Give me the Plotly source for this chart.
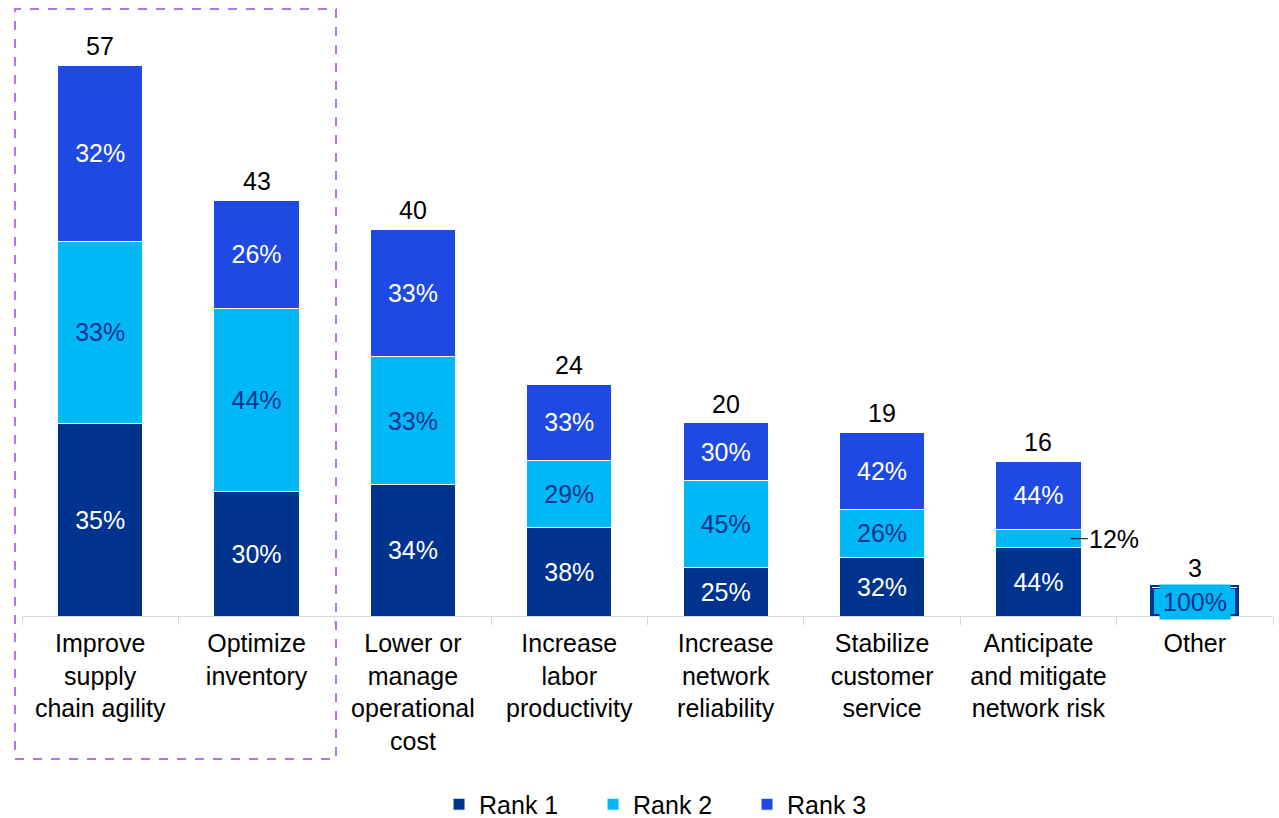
import plotly.graph_objects as go

# data
categories = [
    "Improve<br>supply<br>chain agility",
    "Optimize<br>inventory",
    "Lower or<br>manage<br>operational<br>cost",
    "Increase<br>labor<br>productivity",
    "Increase<br>network<br>reliability",
    "Stabilize<br>customer<br>service",
    "Anticipate<br>and mitigate<br>network risk",
    "Other",
]
totals = [57, 43, 40, 24, 20, 19, 16, 3]
rank1_pct = [35, 30, 34, 38, 25, 32, 44, 0]
rank2_pct = [33, 44, 33, 29, 45, 26, 12, 100]
rank3_pct = [32, 26, 33, 33, 30, 42, 44, 0]

c_rank1 = "#00338D"
c_rank2 = "#00B8F5"
c_rank3 = "#1E49E2"
font = "Liberation Sans, Arial, sans-serif"


def seg(pcts):
    return [t * p / 100 for t, p in zip(totals, pcts)]


def labels(pcts, skip=()):
    return ["" if (p == 0 or i in skip) else f"{p}%" for i, p in enumerate(pcts)]


fig = go.Figure()
series = [
    ("Rank 1", rank1_pct, c_rank1, "white", ()),
    ("Rank 2", rank2_pct, c_rank2, c_rank1, (6, 7)),
    ("Rank 3", rank3_pct, c_rank3, "white", ()),
]
for name, pcts, col, tcol, skip in series:
    line_cols = ["white"] * len(categories)
    line_w = [1] * len(categories)
    if name == "Rank 2":
        line_cols[-1] = c_rank1
        line_w[-1] = 4
    fig.add_trace(go.Bar(
        x=categories, y=seg(pcts), name=name,
        marker=dict(color=col, line=dict(color=line_cols, width=line_w)),
        text=labels(pcts, skip), textposition="inside", insidetextanchor="middle",
        textangle=0, insidetextfont=dict(color=tcol, size=25, family=font),
        hoverinfo="skip",
    ))

annotations = []
for cat, t in zip(categories, totals):
    annotations.append(dict(x=cat, y=t, text=str(t), showarrow=False,
                            yanchor="bottom", yshift=3,
                            font=dict(size=25, color="black", family=font)))

# small segment labelled outside with a leader line
i = 6
annotations.append(dict(
    x=categories[i], y=totals[i] * (rank1_pct[i] + rank2_pct[i] / 2) / 100,
    text=f"{rank2_pct[i]}%", showarrow=True, arrowhead=0, arrowwidth=1,
    arrowcolor="black", ax=44, ay=0, xshift=32,
    font=dict(size=25, color="black", family=font)))

# the "Other" label sits in a boxed tag
i = 7
annotations.append(dict(
    x=categories[i], y=totals[i] * rank2_pct[i] / 200,
    text=f"{rank2_pct[i]}%", showarrow=False, bgcolor=c_rank2,
    borderpad=3, font=dict(size=25, color=c_rank1, family=font)))

fig.update_layout(
    barmode="stack",
    bargap=0.455,
    width=1279, height=818,
    margin=dict(l=22, r=6, t=10, b=202, autoexpand=False),
    plot_bgcolor="white", paper_bgcolor="white",
    font=dict(family=font, size=25, color="black"),
    showlegend=True,
    legend=dict(orientation="h", x=0.518, xanchor="center", y=-0.273, yanchor="top",
                font=dict(size=25), entrywidth=109, traceorder="normal"),
    annotations=annotations,
    # dashed highlight around the first two categories
    shapes=[dict(type="rect", xref="paper", yref="paper", x0=-0.0056, x1=0.251,
                 y0=-0.236, y1=1.0016, line=dict(color="#9B45E4", width=1.5, dash="dash"))],
)
fig.update_xaxes(range=[-0.5, len(categories) - 0.5],
                 showline=True, linecolor="#D9D9D9", ticks="outside", tickson="boundaries",
                 ticklen=8, tickcolor="#D9D9D9", automargin=False, ticklabelstandoff=5,
                 tickfont=dict(size=25, color="black"))
fig.update_yaxes(range=[0, 62.7], visible=False, showgrid=False, automargin=False)

fig.write_html("out.html", config={"displayModeBar": False},
               post_script="document.body.style.margin='0';")
